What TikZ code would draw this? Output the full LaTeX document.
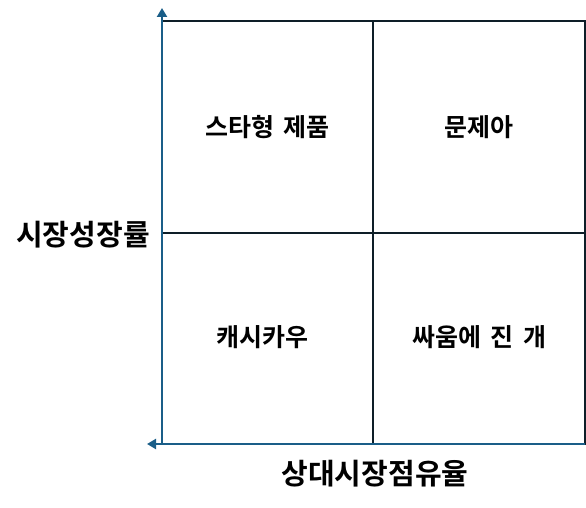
\documentclass[tikz,border=0pt]{standalone}
\usepackage{fontspec}
\setmainfont{Noto Sans CJK KR}[BoldFont={* Bold}]
\usetikzlibrary{arrows.meta}
\definecolor{axisblue}{RGB}{26,94,136}
\definecolor{gridline}{RGB}{14,30,40}
\newcommand{\wsp}{\hspace{0.38em}}
\tikzset{
  gridln/.style={draw=gridline, line width=1.3pt},
  axisln/.style={draw=axisblue, line width=2.4pt, -{Triangle[width=10pt,length=9pt]}},
  celltext/.style={font=\fontsize{25}{29}\selectfont\bfseries, inner sep=0pt},
  axistext/.style={font=\fontsize{29}{33}\selectfont\bfseries, inner sep=0pt}
}
\begin{document}
\begin{tikzpicture}[x=1pt,y=-1pt]
\useasboundingbox (0,0) rectangle (586,508);
% grid
\coordinate (tl) at (162,21);
\coordinate (br) at (585,444);
\coordinate (tm) at (373,21);
\coordinate (bm) at (373,444);
\coordinate (lm) at (162,233);
\coordinate (rm) at (585,233);
\draw[gridln] (tl) rectangle (br);
\draw[gridln] (tm) -- (bm);
\draw[gridln] (lm) -- (rm);
% axes
\coordinate (o) at (162,444);
\coordinate (ytip) at (162,8);
\coordinate (xstart) at (585,444);
\coordinate (xtip) at (147,444);
\draw[axisln] (o) -- (ytip);
\draw[axisln] (xstart) -- (xtip);
% cell labels
\node[celltext] (star) at (267.5,127) {스타형\wsp 제품};
\node[celltext] (question) at (479,127) {문제아};
\node[celltext] (cash) at (262,337) {캐시카우};
\node[celltext] (dog) at (479,337) {싸움에\wsp 진\wsp 개};
% axis labels
\node[axistext] (ylab) at (83,235) {시장성장률};
\node[axistext] (xlab) at (375,474) {상대시장점유율};
\end{tikzpicture}
\end{document}
